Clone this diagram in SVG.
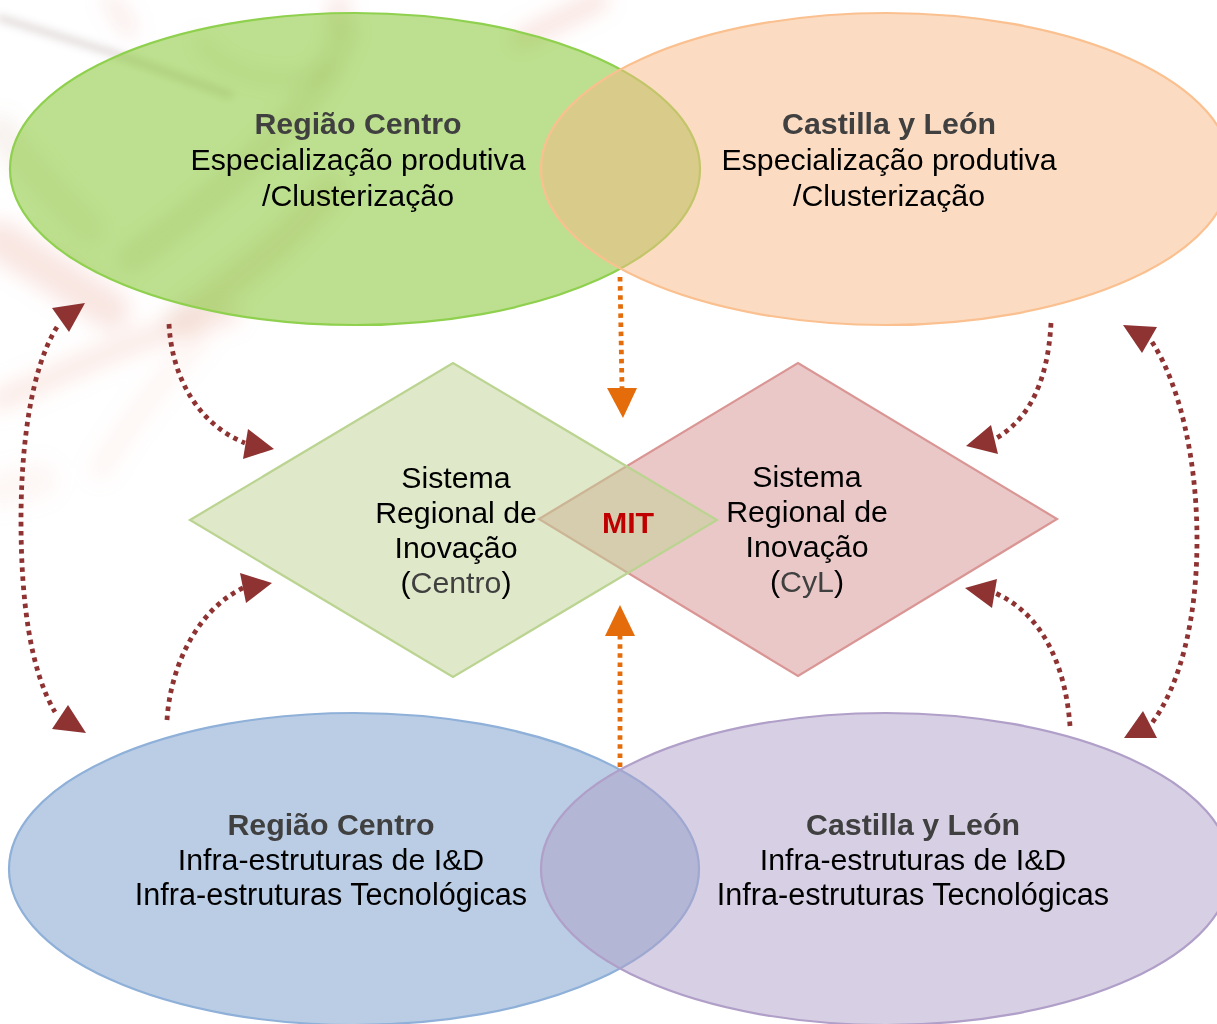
<svg xmlns="http://www.w3.org/2000/svg" width="1217" height="1024" viewBox="0 0 1217 1024">
<style>
text{font-family:"Liberation Sans",Arial,sans-serif;font-size:30.3px;text-anchor:middle;fill:#000}
.h{font-weight:bold;fill:#404040}
.g{fill:#404040}
.w{font-size:30.6px}
.e{stroke-width:2.2;fill-opacity:.5}
.d{stroke-width:2.2;fill-opacity:.5}
.br{fill:none;stroke:#8E3232;stroke-width:4.8;stroke-dasharray:4.5 4.6}
.or{fill:none;stroke:#E46C0A;stroke-width:4.8;stroke-dasharray:4.5 4.6}
.bt{fill:#8E3232}
.ot{fill:#E46C0A}
</style>
<defs><filter id="b" x="-50%" y="-50%" width="200%" height="200%"><feGaussianBlur stdDeviation="10"/></filter>
<filter id="s" x="-30%" y="-30%" width="160%" height="160%"><feGaussianBlur stdDeviation="4"/></filter></defs>
<rect width="1217" height="1024" fill="#fff"/>
<g id="background" fill="none" stroke-linecap="round">
<path filter="url(#s)" d="M0 18L110 52L230 95" stroke="#a89090" stroke-width="6" opacity=".4"/>
<g filter="url(#b)">
<path d="M110 0L130 30" stroke="#e8a8a0" stroke-width="14" opacity=".25"/>
<path d="M340 0L335 25" stroke="#e8a8a0" stroke-width="16" opacity=".3"/>
<path d="M600 0L520 40" stroke="#e8a090" stroke-width="18" opacity=".3"/>
<path d="M200 40C220 75 280 90 330 70" stroke="#a07850" stroke-width="12" opacity=".14"/>
<path d="M345 30C325 100 240 180 130 260" stroke="#a07850" stroke-width="24" opacity=".16"/>
<path d="M330 190C280 250 220 290 180 320" stroke="#c07050" stroke-width="30" opacity=".17"/>
<path d="M0 240C40 265 80 290 110 310" stroke="#e8a090" stroke-width="40" opacity=".26"/>
<path d="M0 130C30 170 60 200 90 230" stroke="#c09070" stroke-width="30" opacity=".12"/>
<path d="M0 400C70 370 150 330 230 315" stroke="#eeb0a0" stroke-width="22" opacity=".26"/>
<path d="M100 470C130 420 170 370 200 340" stroke="#eeb0a0" stroke-width="20" opacity=".12"/>
<path d="M0 490L40 480" stroke="#eeb0a0" stroke-width="36" opacity=".1"/>
</g>
</g>
<g id="connectors">
<path class="br" d="M57 327C30 370 21 450 21 520C21 600 30 670 55 712"/>
<polygon class="bt" points="85,303 52,308 69,332"/>
<polygon class="bt" points="68,705 52,729 86,733"/>
<path class="br" d="M169 324C172 380 200 425 245 443"/>
<polygon class="bt" points="248,429 274,449 243,459"/>
<path class="br" d="M167 720C170 670 195 610 245 587"/>
<polygon class="bt" points="240,573 272,583 246,603"/>
<path class="br" d="M1051 323C1048 380 1030 420 993 440"/>
<polygon class="bt" points="991,425 966,446 998,454"/>
<path class="br" d="M1070 726C1066 670 1045 615 995 593"/>
<polygon class="bt" points="997,579 965,588 992,608"/>
<path class="br" d="M1152 342C1180 385 1197 460 1197 540C1197 620 1180 685 1152 723"/>
<polygon class="bt" points="1123,325 1157,327 1142,353"/>
<polygon class="bt" points="1143,711 1124,738 1157,738"/>
<path class="or" d="M620 277L622 388"/>
<polygon class="ot" points="607,388 637,388 623,418"/>
<path class="or" d="M620 767L620 636"/>
<polygon class="ot" points="620,605 605,636 635,636"/>
</g>
<g id="regiao-centro-top"><ellipse class="e" cx="355" cy="169" rx="345" ry="156" fill="#79C11F" stroke="#8FD04E"/></g>
<g id="castilla-top"><ellipse class="e" cx="886" cy="169" rx="345" ry="156" fill="#F7B985" stroke="#FBC08F"/></g>
<g id="regiao-centro-bottom"><ellipse class="e" cx="354" cy="869" rx="345" ry="156" fill="#759BCB" stroke="#8FB0D8"/></g>
<g id="castilla-bottom"><ellipse class="e" cx="886" cy="869" rx="345" ry="156" fill="#AF9FC7" stroke="#B09FC8"/></g>
<g id="sri-cyl"><polygon class="d" points="539,519 798,363 1057,519 798,676" fill="#D79191" stroke="#D99694"/></g>
<g id="sri-centro"><polygon class="d" points="190,520 453,363 717,520 453,677" fill="#BFD395" stroke="#BBD491"/></g>
<g id="labels-regiao-centro-top">
<text class="h" x="358" y="134">Região Centro</text>
<text x="358" y="170">Especialização produtiva</text>
<text x="358" y="206">/Clusterização</text>
</g>
<g id="labels-castilla-top">
<text class="h" x="889" y="134">Castilla y León</text>
<text x="889" y="170">Especialização produtiva</text>
<text x="889" y="206">/Clusterização</text>
</g>
<g id="labels-regiao-centro-bottom">
<text class="h" x="331" y="835">Região Centro</text>
<text x="331" y="870">Infra-estruturas de I&amp;D</text>
<text class="w" x="331" y="905">Infra-estruturas Tecnológicas</text>
</g>
<g id="labels-castilla-bottom">
<text class="h" x="913" y="835">Castilla y León</text>
<text x="913" y="870">Infra-estruturas de I&amp;D</text>
<text class="w" x="913" y="905">Infra-estruturas Tecnológicas</text>
</g>
<g id="labels-sri-centro">
<text x="456" y="488">Sistema</text>
<text x="456" y="523">Regional de</text>
<text x="456" y="558">Inovação</text>
<text x="456" y="593">(<tspan class="g">Centro</tspan>)</text>
</g>
<g id="labels-sri-cyl">
<text x="807" y="487">Sistema</text>
<text x="807" y="522">Regional de</text>
<text x="807" y="557">Inovação</text>
<text x="807" y="592">(<tspan class="g">CyL</tspan>)</text>
</g>
<g id="mit"><text x="628" y="533" style="font-weight:bold;fill:#C00000">MIT</text></g>
</svg>
